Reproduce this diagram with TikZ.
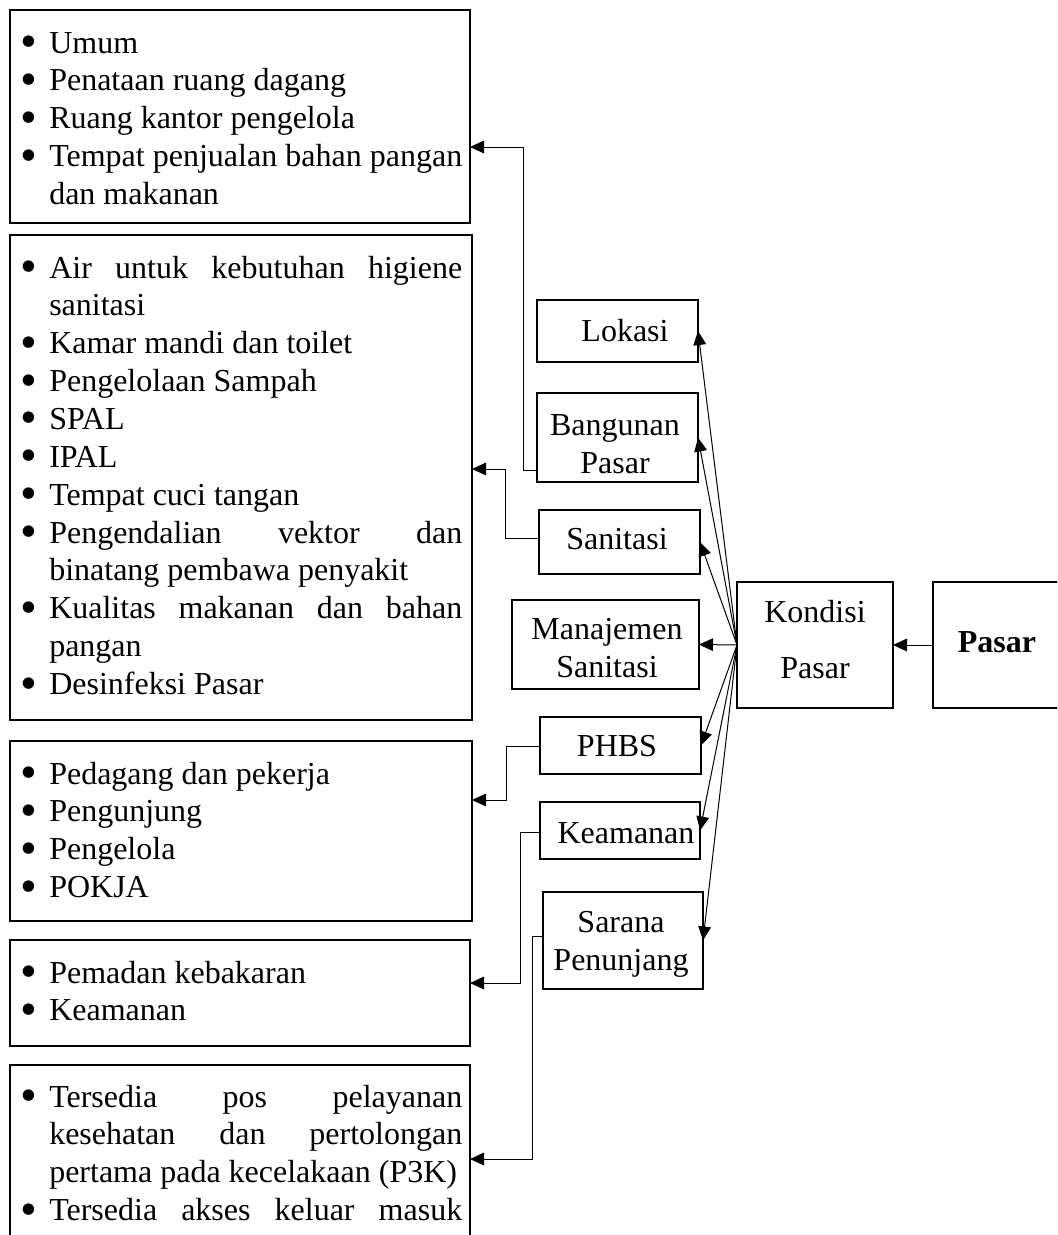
\documentclass[tikz,border=0pt]{standalone}
\usepackage{fontspec}
\setmainfont{Liberation Serif}
\usetikzlibrary{arrows.meta}
\tikzset{
  frame/.style={draw, line width=1.5pt, inner sep=0pt, outer sep=0pt},
  conn/.style={draw, line width=0.75pt, -{Triangle[length=10.5pt,width=9.5pt]}},
  lbl/.style={inner sep=0pt, font=\fontsize{24pt}{28.4pt}\selectfont},
}
\newcommand\bitem{\par\noindent\llap{\raisebox{-0.14em}{\scalebox{1.5}{\textbullet}}\hspace{9pt}}}
\newcommand\blist[1]{\parbox[t]{327.75pt}{\fontsize{24pt}{28.4pt}\selectfont
  \leftskip=18pt\rightskip=0pt\parfillskip=0pt plus 1fil\parindent=0pt
  \hyphenpenalty=10000\exhyphenpenalty=10000\tolerance=10000\emergencystretch=0pt
  #1}}
\newcommand\frm[6]{\node[frame, minimum width={(#4-#2)*0.75pt}, minimum height={(#5-#3)*0.75pt}] (#1) at ({(#2+#4)/2},{(#3+#5)/2}) {#6};}
\begin{document}
\begin{tikzpicture}[x=0.75pt,y=-0.75pt]
\path[use as bounding box] (0,0) rectangle (1057,1235);
\clip (0,0) rectangle (1057,1235);
% left boxes
\frm{b1}{10}{10}{470}{223}{}
\frm{b2}{10}{235}{472}{720}{}
\frm{b3}{10}{741}{472}{921}{}
\frm{b4}{10}{940}{470}{1046}{}
\frm{b5}{10}{1065}{470}{1265}{}
\node[lbl, anchor=base west] (t1) at (25,53) {\blist{%
  \bitem Umum
  \bitem Penataan ruang dagang
  \bitem Ruang kantor pengelola
  \bitem Tempat penjualan bahan pangan\linebreak dan makanan}};
\node[lbl, anchor=base west] (t2) at (25,278) {\blist{%
  \bitem Air untuk kebutuhan higiene\linebreak sanitasi
  \bitem Kamar mandi dan toilet
  \bitem Pengelolaan Sampah
  \bitem SPAL
  \bitem IPAL
  \bitem Tempat cuci tangan
  \bitem Pengendalian vektor dan\linebreak binatang pembawa penyakit
  \bitem Kualitas makanan dan bahan\linebreak pangan
  \bitem Desinfeksi Pasar}};
\node[lbl, anchor=base west] (t3) at (25,784) {\blist{%
  \bitem Pedagang dan pekerja
  \bitem Pengunjung
  \bitem Pengelola
  \bitem POKJA}};
\node[lbl, anchor=base west] (t4) at (25,983) {\blist{%
  \bitem Pemadan kebakaran
  \bitem Keamanan}};
\node[lbl, anchor=base west] (t5) at (25,1107) {\blist{%
  \bitem Tersedia pos pelayanan\linebreak kesehatan dan pertolongan\linebreak pertama pada kecelakaan (P3K)
  \bitem Tersedia akses keluar masuk{\parfillskip=0pt\par}}};
% middle boxes
\frm{lok}{537}{300}{698}{362}{}
\frm{ban}{537}{393}{698}{482}{}
\frm{san}{539}{510}{700}{574}{}
\frm{man}{512}{600}{699}{689}{}
\frm{phb}{540}{717}{701}{774}{}
\frm{kea}{540}{802}{700}{859}{}
\frm{sar}{543}{892}{703}{989}{}
\frm{kon}{737}{582}{893}{708}{}
\frm{pas}{933}{582}{1062}{708}{}
\node[lbl, anchor=base] (lokt) at (625,341) {Lokasi};
\node[lbl, anchor=base, align=center] (bant) at (615,473) {Bangunan\\Pasar};
\node[lbl, anchor=base] (sant) at (617,549) {Sanitasi};
\node[lbl, anchor=base, align=center] (mant) at (607,677) {Manajemen\\Sanitasi};
\node[lbl, anchor=base] (phbt) at (617,756) {PHBS};
\node[lbl, anchor=base] (keat) at (626,843) {Keamanan};
\node[lbl, anchor=base, align=center] (sart) at (621,970) {Sarana\\Penunjang};
\node[lbl, anchor=base, align=center] (kont) at (815,678) {Kondisi\\[13.6pt]Pasar};
\node[lbl, anchor=base] (past) at (997,652) {\bfseries Pasar};
% connectors
\draw[conn] (pas.west) -- (kon.east);
\draw[conn] (kon.west) -- (man.east);
\foreach \n in {lok,ban,san,phb,kea,sar} \draw[conn] (kon.west) -- (\n.east);
\draw[conn] (ban.west |- 0,470) -| (523,147) -- (b1.east |- 0,147);
\draw[conn] (san.west |- 0,538) -| (505,469) -- (b2.east |- 0,469);
\draw[conn] (phb.west |- 0,746) -| (506,800) -- (b3.east |- 0,800);
\draw[conn] (kea.west |- 0,832) -| (520,983) -- (b4.east |- 0,983);
\draw[conn] (sar.west |- 0,936) -| (532,1159) -- (b5.east |- 0,1159);
\end{tikzpicture}
\end{document}
